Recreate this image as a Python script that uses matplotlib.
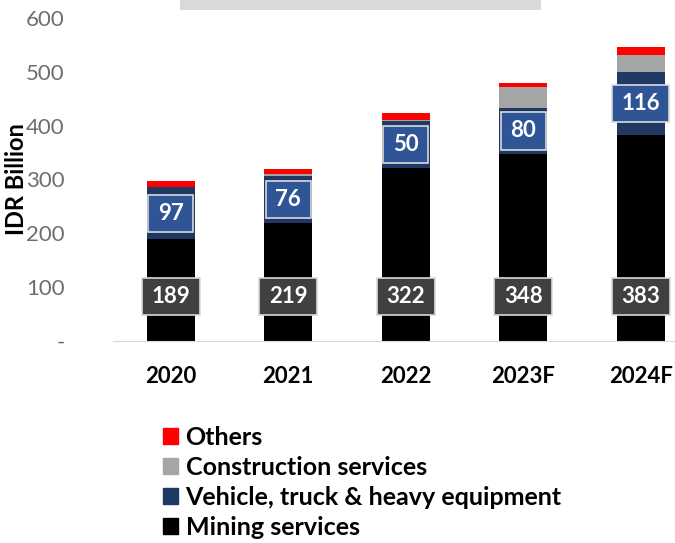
import matplotlib
matplotlib.use("Agg")
import matplotlib.pyplot as plt
from matplotlib.patches import Rectangle, Patch

plt.rcParams['font.family'] = ['Lato', 'DejaVu Sans']

# chart data (IDR billion)
years = ['2020', '2021', '2022', '2023F', '2024F']
mining = [189, 219, 322, 348, 383]
vehicle = [97, 87, 86, 84, 116]
construction = [0, 4, 2, 40, 32]
others = [11, 10, 14, 7, 15]
# labels as printed on the chart
vehicle_labels = ['97', '76', '50', '80', '116']
mining_labels = ['189', '219', '322', '348', '383']
yticks = [0, 100, 200, 300, 400, 500, 600]
ytick_labels = ['-', '100', '200', '300', '400', '500', '600']

c_mining = '#000000'
c_vehicle = '#203864'
c_constr = '#A5A5A5'
c_others = '#FF0000'

fig = plt.figure(figsize=(6.75, 5.43), dpi=100)
ax = fig.add_axes([113 / 675, 0.372, 1 - 113 / 675, 0.595])

x = list(range(len(years)))
w = 0.41
b1 = mining
b2 = [m + v for m, v in zip(mining, vehicle)]
b3 = [a + c for a, c in zip(b2, construction)]

ax.bar(x, mining, w, color=c_mining)
ax.bar(x, vehicle, w, bottom=b1, color=c_vehicle)
ax.bar(x, construction, w, bottom=b2, color=c_constr)
ax.bar(x, others, w, bottom=b3, color=c_others)

ax.set_xlim(-0.49, 4.29)
ax.set_ylim(0, 600)

# pixel -> data helpers for label boxes
px_x = (4.29 + 0.49) / (675 - 113)
px_y = 600 / 323.0


def label_box(xc, yc, txt, fc, extra=0):
    bw = (len(txt) * 12 + 21 + extra) * px_x
    bh = 37 * px_y
    ax.add_patch(Rectangle((xc - bw / 2, yc - bh / 2), bw, bh, fc=fc,
                           ec='#D9D9D9', lw=1.2, zorder=3))
    ax.text(xc, yc, txt, ha='center', va='center', color='white',
            fontsize=16, fontweight='bold', zorder=4)


for i in x:
    label_box(i, 83, mining_labels[i], '#404040', extra=1)
    label_box(i, mining[i] + vehicle[i] / 2, vehicle_labels[i], '#2F5597')

ax.set_yticks(yticks)
ax.set_yticklabels(ytick_labels, color='#6E6E6E', fontsize=16)
ax.set_xticks(x)
ax.set_xticklabels(years, fontsize=16, fontweight='bold')
ax.tick_params(axis='both', length=0)
ax.tick_params(axis='y', pad=35)
ax.tick_params(axis='x', pad=18)
for s in ['top', 'right', 'left']:
    ax.spines[s].set_visible(False)
ax.spines['bottom'].set_color('#D9D9D9')
ax.set_ylabel('IDR Billion', fontsize=17, fontweight='bold')
ax.yaxis.set_label_coords(-85 / 562, 0.5)

# title box cut off at the top
fig.patches.append(Rectangle((180 / 675, 1 - 10 / 543), 361 / 675, 10 / 543,
                             transform=fig.transFigure, fc='#D9D9D9', ec='none'))

handles = [Patch(color=c_others, label='Others'),
           Patch(color=c_constr, label='Construction services'),
           Patch(color=c_vehicle, label='Vehicle, truck & heavy equipment'),
           Patch(color=c_mining, label='Mining services')]
leg = fig.legend(handles=handles, loc='upper left', bbox_to_anchor=(163 / 675, 1 - 426 / 543),
                 frameon=False, borderpad=0, borderaxespad=0,
                 handlelength=0.6, handleheight=0.6, handletextpad=0.3,
                 labelspacing=0.28, prop={'size': 18, 'weight': 'bold'})

fig.savefig('out.png', dpi=100)
